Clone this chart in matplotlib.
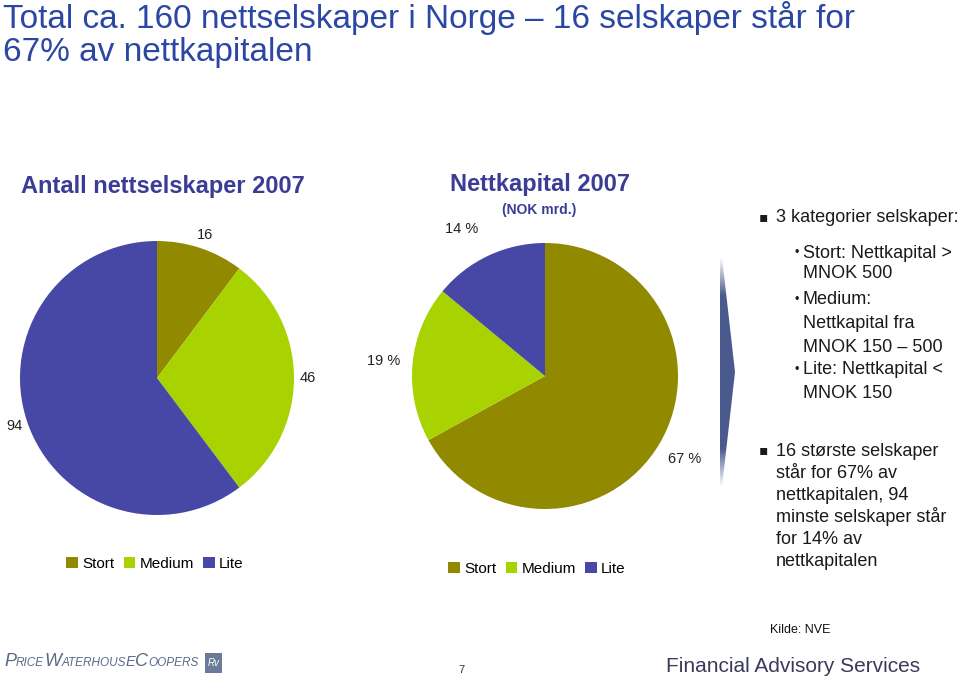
import matplotlib.pyplot as plt
import numpy as np
from matplotlib.patches import Polygon, Rectangle
from matplotlib.offsetbox import TextArea, HPacker, AnchoredOffsetbox

plt.rcParams['font.family'] = ['Liberation Sans', 'DejaVu Sans']

# data
categories = ['Stort', 'Medium', 'Lite']
antall = [16, 46, 94]
kapital_pct = [67, 19, 14]

colors = ['#918a00', '#a9d300', '#4747a6']
title_blue = '#3a3c96'
W, H = 960, 681

fig = plt.figure(figsize=(W / 100, H / 100), dpi=100)

# background axes in pixel coordinates for all free text
bg = fig.add_axes([0, 0, 1, 1])
bg.set_xlim(0, W)
bg.set_ylim(H, 0)
bg.axis('off')


def pie_axes(cx, cy, r):
    return fig.add_axes([(cx - r) / W, (H - cy - r) / H, 2 * r / W, 2 * r / H])


# main title
bg.text(3, 18, 'Total ca. 160 nettselskaper i Norge – 16 selskaper står for',
        fontsize=24, color='#2b46a3', va='center', ha='left')
bg.text(3, 52, '67% av nettkapitalen', fontsize=24, color='#2b46a3', va='center', ha='left')

# left pie: number of companies
ax1 = pie_axes(157, 378, 137)
w1, t1 = ax1.pie(antall, colors=colors, startangle=90, counterclock=False,
                 labels=[str(v) for v in antall], labeldistance=1.1,
                 textprops=dict(fontsize=10.5, color='#222222'))
for t in t1:
    t.set_ha('center')
ax1.set_xlim(-1, 1)
ax1.set_ylim(-1, 1)
bg.text(163, 187, 'Antall nettselskaper 2007', fontsize=17, fontweight='bold',
        color=title_blue, ha='center', va='center')
bg.legend(w1, categories, loc='center', bbox_to_anchor=(155 / W, 1 - 564 / H),
          bbox_transform=fig.transFigure, ncol=3, frameon=False, fontsize=11,
          handlelength=0.75, handleheight=0.75, handletextpad=0.3, columnspacing=0.6)

# right pie: net capital
ax2 = pie_axes(545, 376, 133)
w2, t2 = ax2.pie(kapital_pct, colors=colors, startangle=90, counterclock=False,
                 labels=[f'{v} %' for v in kapital_pct], labeldistance=1.22,
                 textprops=dict(fontsize=10.5, color='#222222'))
for t in t2:
    t.set_ha('center')
# the small-slice label sits a bit further left in the original
x, y = t2[2].get_position()
t2[2].set_position((x - 0.11, y))
ax2.set_xlim(-1, 1)
ax2.set_ylim(-1, 1)
bg.text(540, 185, 'Nettkapital 2007', fontsize=17, fontweight='bold',
        color=title_blue, ha='center', va='center')
bg.text(539, 210, '(NOK mrd.)', fontsize=10, fontweight='bold',
        color=title_blue, ha='center', va='center')
ax2.legend(w2, categories, loc='center', bbox_to_anchor=(537 / W, 1 - 569 / H),
           bbox_transform=fig.transFigure, ncol=3, frameon=False, fontsize=11,
           handlelength=0.75, handleheight=0.75, handletextpad=0.3, columnspacing=0.6)

# arrow with faded ends
arrow = Polygon([(720, 257), (722, 257), (735, 372), (722, 487), (720, 487)],
                closed=True, facecolor='none', edgecolor='none')
bg.add_patch(arrow)
yy = np.linspace(0, 1, 200)
alpha = np.clip(np.minimum(yy, 1 - yy) * 6, 0, 1)
grad = np.zeros((200, 1, 4))
grad[:, 0, :3] = np.array([0x4a, 0x5a, 0x8c]) / 255
grad[:, 0, 3] = alpha
im = bg.imshow(grad, extent=(719, 736, 487, 257), aspect='auto', interpolation='bilinear')
im.set_clip_path(arrow)
bg.set_xlim(0, W)
bg.set_ylim(H, 0)

# right hand text
txt = '#1a1a1a'
bg.text(763, 217, '▪', family='DejaVu Sans', fontsize=10, color=txt, va='center', ha='center')
bg.text(776, 218, '3 kategorier selskaper:', fontsize=13, color=txt, va='center')
sub = [(253, True, 'Stort: Nettkapital >'), (273, False, 'MNOK 500'),
       (300, True, 'Medium:'), (323, False, 'Nettkapital fra'),
       (347, False, 'MNOK 150 – 500'), (370, True, 'Lite: Nettkapital <'),
       (393, False, 'MNOK 150')]
for y, bullet, s in sub:
    if bullet:
        bg.text(797, y, '•', fontsize=9, color=txt, va='center', ha='center')
    bg.text(803, y, s, fontsize=13, color=txt, va='center')

bg.text(763, 450, '▪', family='DejaVu Sans', fontsize=10, color=txt, va='center', ha='center')
lines2 = ['16 største selskaper', 'står for 67% av', 'nettkapitalen, 94',
          'minste selskaper står', 'for 14% av', 'nettkapitalen']
for i, s in enumerate(lines2):
    bg.text(776, 451 + i * 22, s, fontsize=13, color=txt, va='center')

# footer
bg.text(800, 630, 'Kilde: NVE', fontsize=9, color='#111111', ha='center', va='center')
bg.text(461, 670, '7', fontsize=8, color='#333333', ha='center', va='center')
bg.text(793, 667, 'Financial Advisory Services', fontsize=15, color='#3a3a5c',
        ha='center', va='center')

logo = '#5a6a88'
parts = [('P', 13), ('RICE', 8.5), ('W', 13), ('ATERHOUS', 8.5), ('E', 10.5),
         ('C', 13), ('OOPERS', 8.5)]
box = HPacker(children=[TextArea(s, textprops=dict(fontsize=f, color=logo, fontstyle='italic'))
                        for s, f in parts], align='baseline', pad=0, sep=0)
bg.add_artist(AnchoredOffsetbox(loc='center left', child=box, frameon=False, pad=0,
                                bbox_to_anchor=(4 / W, 1 - 662 / H),
                                bbox_transform=fig.transFigure, borderpad=0))
bg.add_patch(Rectangle((205, 653), 17, 20, facecolor='#6a7a98', edgecolor='none'))
bg.text(213.5, 663, 'Rv', fontsize=7, color='white', ha='center', va='center', fontstyle='italic')

fig.savefig('out.png', dpi=100)
